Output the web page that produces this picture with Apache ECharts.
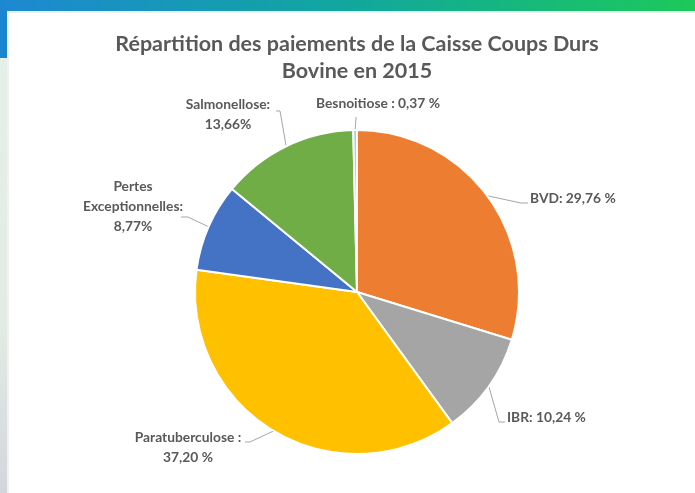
<!DOCTYPE html>
<html>
<head>
<meta charset="utf-8">
<script src="https://cdn.jsdelivr.net/npm/echarts@6/dist/echarts.min.js"></script>
<style>
html, body { margin: 0; padding: 0; background: #fff; }
#main { width: 695px; height: 493px; }
</style>
</head>
<body>
<div id="main"></div>
<script>
// données
var categories = ['BVD', 'IBR', 'Paratuberculose', 'Pertes Exceptionnelles', 'Salmonellose', 'Besnoitiose'];
var values = [29.76, 10.24, 37.20, 8.77, 13.66, 0.37];
var labelTexts = ['BVD: 29,76 %', 'IBR: 10,24 %', 'Paratuberculose :\n37,20 %', 'Pertes\nExceptionnelles:\n8,77%', 'Salmonellose:\n13,66%', 'Besnoitiose : 0,37 %'];
var colors = ['#ED7D31', '#A5A5A5', '#FFC000', '#4472C4', '#70AD47', '#a9cbea'];

// placement des étiquettes (ancre du texte + coude de la ligne de rappel)
var labelPlaces = [
    {x: 530, y: 199, align: 'left', bend: [521, 203], end: [528, 203]},
    {x: 507, y: 418, align: 'left', bend: [499, 422], end: [505, 422]},
    {x: 188, y: 448, align: 'center', bend: [250, 442], end: [245, 442]},
    {x: 133, y: 207, align: 'center', bend: [188, 217], end: [181, 217]},
    {x: 228, y: 115, align: 'center', bend: [280, 111], end: [276, 111]},
    {x: 378, y: 104, align: 'center', bend: [356, 118], end: [356, 117]}
];

var myChart = echarts.init(document.getElementById('main'));

var option = {
    animation: false,
    backgroundColor: '#fff',
    color: colors,
    graphic: [
        {
            type: 'rect', z: 0,
            shape: {x: 0, y: 0, width: 695, height: 11},
            style: {fill: new echarts.graphic.LinearGradient(0, 0, 1, 0, [
                {offset: 0, color: '#1d88d2'},
                {offset: 0.5, color: '#11a79e'},
                {offset: 1, color: '#1cc95a'}
            ])}
        },
        {type: 'rect', z: 0, shape: {x: 7, y: 11, width: 688, height: 2}, style: {fill: '#ededed'}},
        {type: 'rect', z: 0, shape: {x: 0, y: 11, width: 7, height: 47}, style: {fill: '#1b86cf'}},
        {
            type: 'rect', z: 0,
            shape: {x: 0, y: 58, width: 7, height: 435},
            style: {fill: new echarts.graphic.LinearGradient(0, 0, 0, 1, [
                {offset: 0, color: '#e4efe7'},
                {offset: 0.6, color: '#e2ece5'},
                {offset: 1, color: '#d4d6dc'}
            ])}
        },
        {type: 'rect', z: 0, shape: {x: 7, y: 13, width: 2, height: 480}, style: {fill: '#f1f1f1'}}
    ],
    title: {
        text: 'Répartition des paiements de la Caisse Coups Durs\nBovine en 2015',
        left: 357,
        top: 31,
        textAlign: 'center',
        padding: 0,
        textStyle: {
            fontFamily: 'Lato',
            fontSize: 21.5,
            fontWeight: 'bold',
            color: '#595959',
            lineHeight: 27
        }
    },
    series: [{
        type: 'pie',
        center: [357, 292],
        radius: 162,
        startAngle: 90,
        clockwise: true,
        avoidLabelOverlap: false,
        emphasis: {disabled: true},
        itemStyle: {borderColor: '#fff', borderWidth: 2},
        label: {
            show: true,
            position: 'outside',
            formatter: function (p) { return labelTexts[p.dataIndex]; },
            fontFamily: 'Lato',
            fontSize: 13.8,
            fontWeight: 'bold',
            color: '#595959',
            lineHeight: 20
        },
        labelLine: {
            show: true,
            lineStyle: {color: '#a6a6a6', width: 1}
        },
        labelLayout: function (params) {
            var pl = labelPlaces[params.dataIndex];
            var start = params.labelLinePoints ? params.labelLinePoints[0] : pl.bend;
            return {
                x: pl.x,
                y: pl.y,
                align: pl.align,
                verticalAlign: 'middle',
                labelLinePoints: [start, pl.bend, pl.end]
            };
        },
        data: categories.map(function (c, i) {
            return {name: c, value: values[i]};
        })
    }]
};

myChart.setOption(option);
</script>
</body>
</html>
